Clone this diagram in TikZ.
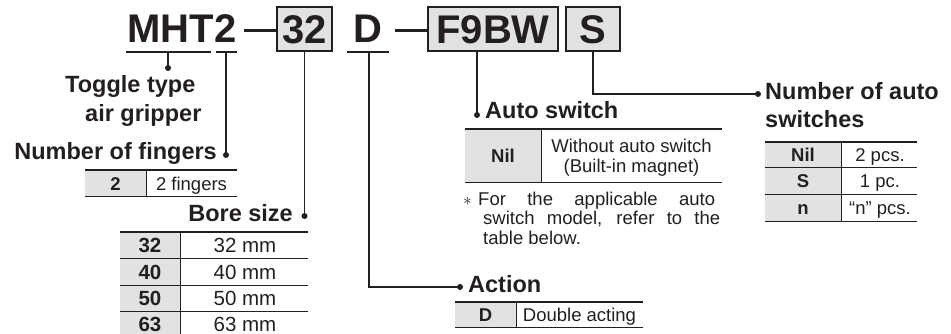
\documentclass[tikz,border=0pt]{standalone}
\usepackage{fontspec}
\setmainfont{Liberation Sans}
\definecolor{ink}{HTML}{231F20}
\definecolor{cellgray}{HTML}{E2E2E2}
\begin{document}
\begin{tikzpicture}[x=1pt,y=-1pt,
  every node/.style={inner sep=0pt, text=ink},
  code/.style={font=\bfseries\fontsize{40}{40}\selectfont},
  codebox/.style={code, draw=ink, line width=1.8pt, fill=cellgray, text height=28.6pt, text depth=0pt, minimum height=44pt},
  head/.style={font=\bfseries\fontsize{23.5}{26}\selectfont},
  cell/.style={font=\fontsize{18.5}{20}\selectfont},
  bcell/.style={font=\bfseries\fontsize{18.5}{20}\selectfont},
  bigcell/.style={font=\fontsize{20.5}{22}\selectfont},
  bigbcell/.style={font=\bfseries\fontsize{20.5}{22}\selectfont},
  conn/.style={draw=ink, line width=1.5pt},
  dot/.style={circle, fill=ink, minimum size=6pt},
  uline/.style={draw=ink, line width=1.6pt},
  toprule/.style={draw=ink, line width=2pt},
  midrule/.style={draw=ink, line width=1pt},
  codedash/.style={draw=ink, line width=3pt}]
\useasboundingbox (0,0) rectangle (951,334);

% ---- code line ----
\node[code, anchor=base west] (mht) at (127,43) {MHT};
\node[code, anchor=base west] (two) at (mht.base east) {2};
\node[codebox, minimum width=55pt] (b32) at (304.5,29) {32};
\node[code, anchor=base] (dd) at (368,43) {D};
\node[codebox, minimum width=130pt] (bF) at (493,29) {F9BW};
\node[codebox, minimum width=54pt] (bS) at (593,29) {S};

\draw[uline] (126,52) -- (211,52);
\draw[uline] (216,52) -- (237,52);
\draw[uline] (347,52) -- (389,52);
\coordinate (k1) at (244,31);
\coordinate (k2) at (395,31);
\draw[codedash] (k1) -- (k1 -| b32.west);
\draw[codedash] (k2) -- (k2 -| bF.west);

% ---- dots ----
\node[dot] (d1) at (168,68) {};
\node[dot] (d2) at (226,155) {};
\node[dot] (d3) at (304.5,216) {};
\node[dot] (d4) at (477,115) {};
\node[dot] (d5) at (460,287) {};
\node[dot] (d6) at (758,94) {};

\coordinate (u1) at (168,52);
\coordinate (u2) at (226,52);
\coordinate (uD) at (369,52);

\draw[conn] (u1) -- (d1.center);
\draw[conn] (u2) -- (d2.center);
\draw[conn] (b32.south) -- (d3.center);
\draw[conn] (d4 |- bF.south) -- (d4.center);
\draw[conn] (uD) |- (d5.center);
\draw[conn] (bS.south) |- (d6.center);

% ---- headings ----
\node[head, anchor=base west] (h1a) at (65,93) {Toggle type};
\node[head, anchor=base west] (h1b) at (85,122) {air gripper};
\node[head, anchor=base east] (h2) at (217,160) {Number of fingers};
\node[head, anchor=base east] (h3) at (293,222) {Bore size};
\node[head, anchor=base west] (h4) at (485,119) {Auto switch};
\node[head, anchor=base west] (h5) at (468,292) {Action};
\node[head, anchor=base west] (h6a) at (765,100) {Number of auto};
\node[head, anchor=base west] (h6b) at (765,128) {switches};

% ---- fingers table ----
\fill[cellgray] (85,170) rectangle (146,197);
\draw[toprule] (85,170) -- (237,170);
\draw[midrule] (85,197) -- (237,197);
\draw[midrule] (146,170) -- (146,197);
\node[bcell, anchor=base] (f1) at (115.5,190) {2};
\node[cell, anchor=base] (f2) at (191.5,190) {2 fingers};

% ---- bore size table ----
\fill[cellgray] (120,232) rectangle (180,340);
\draw[toprule] (120,232) -- (308,232);
\foreach \yy in {258,285,311,337} \draw[midrule] (120,\yy) -- (308,\yy);
\draw[midrule] (180,232) -- (180,340);
\node[bigbcell, anchor=base] (b1) at (150,252.5) {32};
\node[bigcell, anchor=base] (b1r) at (245,252.5) {32 mm};
\node[bigbcell, anchor=base] (b2) at (150,279) {40};
\node[bigcell, anchor=base] (b2r) at (245,279) {40 mm};
\node[bigbcell, anchor=base] (b3) at (150,305.5) {50};
\node[bigcell, anchor=base] (b3r) at (245,305.5) {50 mm};
\node[bigbcell, anchor=base] (b4) at (150,331.5) {63};
\node[bigcell, anchor=base] (b4r) at (245,331.5) {63 mm};

% ---- auto switch table ----
\fill[cellgray] (465,129) rectangle (541,183);
\draw[toprule] (465,129) -- (722,129);
\draw[midrule] (465,183) -- (722,183);
\draw[midrule] (541,129) -- (541,183);
\node[bcell, anchor=base] (a1) at (503,162.5) {Nil};
\node[cell, anchor=base] (a2) at (631.5,153) {Without auto switch};
\node[cell, anchor=base] (a3) at (631.5,173) {(Built-in magnet)};

% ---- note ----
\node[cell, anchor=base west] (ast) at (463,205) {$\ast$};
\node[cell, anchor=base west] (n1) at (478,205) {\makebox[237pt][s]{For the applicable auto}};
\node[cell, anchor=base west] (n2) at (483,224.5) {\makebox[237pt][s]{switch model, refer to the}};
\node[cell, anchor=base west] (n3) at (483,244) {table below.};

% ---- action table ----
\fill[cellgray] (455,302) rectangle (516,327);
\draw[toprule] (455,302) -- (643,302);
\draw[midrule] (455,327) -- (643,327);
\draw[midrule] (516,302) -- (516,327);
\node[bcell, anchor=base] (c1) at (485.5,321) {D};
\node[cell, anchor=base] (c2) at (579.5,321) {Double acting};

% ---- number of auto switches table ----
\fill[cellgray] (765,142) rectangle (841,221);
\draw[toprule] (765,142) -- (917,142);
\foreach \yy in {168,195,221} \draw[midrule] (765,\yy) -- (917,\yy);
\draw[midrule] (841,142) -- (841,221);
\node[bcell, anchor=base] (s1) at (803,161.5) {Nil};
\node[cell, anchor=base] (s1r) at (880,161.5) {2 pcs.};
\node[bcell, anchor=base] (s2) at (803,188) {S};
\node[cell, anchor=base] (s2r) at (880,188) {1 pc.};
\node[bcell, anchor=base] (s3) at (803,214.5) {n};
\node[cell, anchor=base] (s3r) at (880,214.5) {“n” pcs.};
\end{tikzpicture}
\end{document}
